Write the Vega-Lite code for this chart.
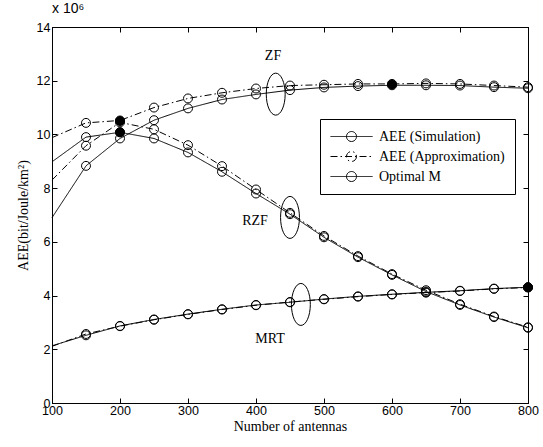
{
  "$schema": "https://vega.github.io/schema/vega-lite/v6.json",
  "width": 476,
  "height": 376,
  "autosize": {"type": "none"},
  "padding": {"left": 52, "top": 27, "right": 15, "bottom": 44},
  "background": "white",
  "title": {"text": "x 10⁶", "anchor": "start", "frame": "group", "font": "Liberation Sans", "fontSize": 14, "fontWeight": "normal", "color": "black", "offset": 5},
  "config": {
    "view": {"stroke": "black", "strokeWidth": 1},
    "axis": {"domainColor": "black", "tickColor": "black", "labelColor": "black", "titleColor": "black", "labelFont": "Liberation Sans", "labelFontSize": 12.5, "titleFont": "Liberation Serif", "titleFontSize": 14, "titleFontWeight": "normal", "grid": false, "tickSize": -5, "labelPadding": 4, "labelFlush": false, "labelOverlap": false}
  },
  "datasets": {
    "series": [
      {"M": 100, "v": 6.9, "s": "ZF-sim", "type": "AEE (Simulation)"},
      {"M": 150, "v": 8.83, "s": "ZF-sim", "type": "AEE (Simulation)"},
      {"M": 200, "v": 9.85, "s": "ZF-sim", "type": "AEE (Simulation)"},
      {"M": 250, "v": 10.53, "s": "ZF-sim", "type": "AEE (Simulation)"},
      {"M": 300, "v": 10.97, "s": "ZF-sim", "type": "AEE (Simulation)"},
      {"M": 350, "v": 11.3, "s": "ZF-sim", "type": "AEE (Simulation)"},
      {"M": 400, "v": 11.49, "s": "ZF-sim", "type": "AEE (Simulation)"},
      {"M": 450, "v": 11.65, "s": "ZF-sim", "type": "AEE (Simulation)"},
      {"M": 500, "v": 11.75, "s": "ZF-sim", "type": "AEE (Simulation)"},
      {"M": 550, "v": 11.8, "s": "ZF-sim", "type": "AEE (Simulation)"},
      {"M": 600, "v": 11.83, "s": "ZF-sim", "type": "AEE (Simulation)"},
      {"M": 650, "v": 11.83, "s": "ZF-sim", "type": "AEE (Simulation)"},
      {"M": 700, "v": 11.82, "s": "ZF-sim", "type": "AEE (Simulation)"},
      {"M": 750, "v": 11.76, "s": "ZF-sim", "type": "AEE (Simulation)"},
      {"M": 800, "v": 11.72, "s": "ZF-sim", "type": "AEE (Simulation)"},
      {"M": 100, "v": 9.88, "s": "ZF-app", "type": "AEE (Approximation)"},
      {"M": 150, "v": 10.43, "s": "ZF-app", "type": "AEE (Approximation)"},
      {"M": 200, "v": 10.52, "s": "ZF-app", "type": "AEE (Approximation)"},
      {"M": 250, "v": 11.0, "s": "ZF-app", "type": "AEE (Approximation)"},
      {"M": 300, "v": 11.34, "s": "ZF-app", "type": "AEE (Approximation)"},
      {"M": 350, "v": 11.55, "s": "ZF-app", "type": "AEE (Approximation)"},
      {"M": 400, "v": 11.71, "s": "ZF-app", "type": "AEE (Approximation)"},
      {"M": 450, "v": 11.82, "s": "ZF-app", "type": "AEE (Approximation)"},
      {"M": 500, "v": 11.85, "s": "ZF-app", "type": "AEE (Approximation)"},
      {"M": 550, "v": 11.88, "s": "ZF-app", "type": "AEE (Approximation)"},
      {"M": 600, "v": 11.88, "s": "ZF-app", "type": "AEE (Approximation)"},
      {"M": 650, "v": 11.9, "s": "ZF-app", "type": "AEE (Approximation)"},
      {"M": 700, "v": 11.88, "s": "ZF-app", "type": "AEE (Approximation)"},
      {"M": 750, "v": 11.82, "s": "ZF-app", "type": "AEE (Approximation)"},
      {"M": 800, "v": 11.76, "s": "ZF-app", "type": "AEE (Approximation)"},
      {"M": 100, "v": 8.98, "s": "RZF-sim", "type": "AEE (Simulation)"},
      {"M": 150, "v": 9.9, "s": "RZF-sim", "type": "AEE (Simulation)"},
      {"M": 200, "v": 10.08, "s": "RZF-sim", "type": "AEE (Simulation)"},
      {"M": 250, "v": 9.85, "s": "RZF-sim", "type": "AEE (Simulation)"},
      {"M": 300, "v": 9.33, "s": "RZF-sim", "type": "AEE (Simulation)"},
      {"M": 350, "v": 8.61, "s": "RZF-sim", "type": "AEE (Simulation)"},
      {"M": 400, "v": 7.8, "s": "RZF-sim", "type": "AEE (Simulation)"},
      {"M": 450, "v": 7.03, "s": "RZF-sim", "type": "AEE (Simulation)"},
      {"M": 500, "v": 6.17, "s": "RZF-sim", "type": "AEE (Simulation)"},
      {"M": 550, "v": 5.43, "s": "RZF-sim", "type": "AEE (Simulation)"},
      {"M": 600, "v": 4.77, "s": "RZF-sim", "type": "AEE (Simulation)"},
      {"M": 650, "v": 4.15, "s": "RZF-sim", "type": "AEE (Simulation)"},
      {"M": 700, "v": 3.65, "s": "RZF-sim", "type": "AEE (Simulation)"},
      {"M": 750, "v": 3.2, "s": "RZF-sim", "type": "AEE (Simulation)"},
      {"M": 800, "v": 2.8, "s": "RZF-sim", "type": "AEE (Simulation)"},
      {"M": 100, "v": 8.3, "s": "RZF-app", "type": "AEE (Approximation)"},
      {"M": 150, "v": 9.58, "s": "RZF-app", "type": "AEE (Approximation)"},
      {"M": 200, "v": 10.45, "s": "RZF-app", "type": "AEE (Approximation)"},
      {"M": 250, "v": 10.19, "s": "RZF-app", "type": "AEE (Approximation)"},
      {"M": 300, "v": 9.6, "s": "RZF-app", "type": "AEE (Approximation)"},
      {"M": 350, "v": 8.82, "s": "RZF-app", "type": "AEE (Approximation)"},
      {"M": 400, "v": 7.95, "s": "RZF-app", "type": "AEE (Approximation)"},
      {"M": 450, "v": 7.08, "s": "RZF-app", "type": "AEE (Approximation)"},
      {"M": 500, "v": 6.22, "s": "RZF-app", "type": "AEE (Approximation)"},
      {"M": 550, "v": 5.47, "s": "RZF-app", "type": "AEE (Approximation)"},
      {"M": 600, "v": 4.8, "s": "RZF-app", "type": "AEE (Approximation)"},
      {"M": 650, "v": 4.2, "s": "RZF-app", "type": "AEE (Approximation)"},
      {"M": 700, "v": 3.68, "s": "RZF-app", "type": "AEE (Approximation)"},
      {"M": 750, "v": 3.22, "s": "RZF-app", "type": "AEE (Approximation)"},
      {"M": 800, "v": 2.82, "s": "RZF-app", "type": "AEE (Approximation)"},
      {"M": 100, "v": 2.13, "s": "MRT-sim", "type": "AEE (Simulation)"},
      {"M": 150, "v": 2.52, "s": "MRT-sim", "type": "AEE (Simulation)"},
      {"M": 200, "v": 2.87, "s": "MRT-sim", "type": "AEE (Simulation)"},
      {"M": 250, "v": 3.11, "s": "MRT-sim", "type": "AEE (Simulation)"},
      {"M": 300, "v": 3.31, "s": "MRT-sim", "type": "AEE (Simulation)"},
      {"M": 350, "v": 3.49, "s": "MRT-sim", "type": "AEE (Simulation)"},
      {"M": 400, "v": 3.65, "s": "MRT-sim", "type": "AEE (Simulation)"},
      {"M": 450, "v": 3.75, "s": "MRT-sim", "type": "AEE (Simulation)"},
      {"M": 500, "v": 3.87, "s": "MRT-sim", "type": "AEE (Simulation)"},
      {"M": 550, "v": 3.97, "s": "MRT-sim", "type": "AEE (Simulation)"},
      {"M": 600, "v": 4.05, "s": "MRT-sim", "type": "AEE (Simulation)"},
      {"M": 650, "v": 4.12, "s": "MRT-sim", "type": "AEE (Simulation)"},
      {"M": 700, "v": 4.18, "s": "MRT-sim", "type": "AEE (Simulation)"},
      {"M": 750, "v": 4.26, "s": "MRT-sim", "type": "AEE (Simulation)"},
      {"M": 800, "v": 4.31, "s": "MRT-sim", "type": "AEE (Simulation)"},
      {"M": 100, "v": 2.11, "s": "MRT-app", "type": "AEE (Approximation)"},
      {"M": 150, "v": 2.57, "s": "MRT-app", "type": "AEE (Approximation)"},
      {"M": 200, "v": 2.86, "s": "MRT-app", "type": "AEE (Approximation)"},
      {"M": 250, "v": 3.1, "s": "MRT-app", "type": "AEE (Approximation)"},
      {"M": 300, "v": 3.3, "s": "MRT-app", "type": "AEE (Approximation)"},
      {"M": 350, "v": 3.48, "s": "MRT-app", "type": "AEE (Approximation)"},
      {"M": 400, "v": 3.64, "s": "MRT-app", "type": "AEE (Approximation)"},
      {"M": 450, "v": 3.76, "s": "MRT-app", "type": "AEE (Approximation)"},
      {"M": 500, "v": 3.86, "s": "MRT-app", "type": "AEE (Approximation)"},
      {"M": 550, "v": 3.96, "s": "MRT-app", "type": "AEE (Approximation)"},
      {"M": 600, "v": 4.04, "s": "MRT-app", "type": "AEE (Approximation)"},
      {"M": 650, "v": 4.11, "s": "MRT-app", "type": "AEE (Approximation)"},
      {"M": 700, "v": 4.17, "s": "MRT-app", "type": "AEE (Approximation)"},
      {"M": 750, "v": 4.25, "s": "MRT-app", "type": "AEE (Approximation)"},
      {"M": 800, "v": 4.3, "s": "MRT-app", "type": "AEE (Approximation)"}
    ],
    "optimal": [
      {"M": 200, "v": 10.08},
      {"M": 200, "v": 10.5},
      {"M": 600, "v": 11.86},
      {"M": 800, "v": 4.31}
    ],
    "ellipses": [
      {"M": 429, "v": 11.5},
      {"M": 450, "v": 6.91},
      {"M": 466, "v": 3.67}
    ],
    "labels": [
      {"M": 425, "v": 12.92, "label": "ZF"},
      {"M": 398.5, "v": 6.79, "label": "RZF"},
      {"M": 420.6, "v": 2.37, "label": "MRT"}
    ]
  },
  "layer": [
    {
      "data": {"name": "series"},
      "mark": {"type": "line", "color": "black", "strokeWidth": 1},
      "encoding": {
        "x": {"field": "M", "type": "quantitative", "scale": {"domain": [100, 800]}, "axis": {"orient": "bottom", "title": "Number of antennas", "values": [100, 200, 300, 400, 500, 600, 700, 800], "labelPadding": 6, "titlePadding": 3}},
        "y": {"field": "v", "type": "quantitative", "scale": {"domain": [0, 14]}, "axis": {"orient": "left", "title": "AEE(bit/Joule/km²)", "values": [0, 2, 4, 6, 8, 10, 12, 14], "labelPadding": 7, "titlePadding": 6}},
        "detail": {"field": "s"},
        "strokeDash": {
          "field": "type",
          "type": "nominal",
          "scale": {"domain": ["AEE (Simulation)", "AEE (Approximation)", "Optimal M"], "range": [[1, 0], [7, 3, 1.5, 3], [1, 0]]},
          "legend": {
            "title": null,
            "orient": "none",
            "legendX": 268,
            "legendY": 92,
            "symbolType": "M -1 0 L 5 0 M 2.714 0 A 0.714 0.714 0 1 1 1.286 0 A 0.714 0.714 0 1 1 2.714 0",
            "symbolSize": 196,
            "symbolStrokeColor": "black",
            "symbolStrokeWidth": 1,
            "symbolFillColor": "transparent",
            "labelFont": "Liberation Serif",
            "labelFontSize": 14,
            "labelColor": "black",
            "labelOffset": 34,
            "rowPadding": 5,
            "padding": 10,
            "strokeColor": "black",
            "fillColor": "white"
          }
        }
      }
    },
    {
      "data": {"name": "series"},
      "transform": [{"filter": "datum.M > 100"}],
      "mark": {"type": "point", "shape": "circle", "size": 80, "filled": false, "stroke": "black", "strokeWidth": 1, "opacity": 1},
      "encoding": {
        "x": {"field": "M", "type": "quantitative", "axis": null},
        "y": {"field": "v", "type": "quantitative", "axis": null}
      }
    },
    {
      "data": {"name": "optimal"},
      "mark": {"type": "point", "shape": "circle", "size": 80, "filled": true, "fill": "black", "stroke": "black", "strokeWidth": 1, "opacity": 1},
      "encoding": {
        "x": {"field": "M", "type": "quantitative", "axis": null},
        "y": {"field": "v", "type": "quantitative", "axis": null}
      }
    },
    {
      "data": {"name": "ellipses"},
      "mark": {"type": "point", "shape": "M -0.45 0 A 0.45 1 0 1 1 0.45 0 A 0.45 1 0 1 1 -0.45 0 Z", "size": 1764, "filled": false, "stroke": "black", "strokeWidth": 1, "opacity": 1},
      "encoding": {
        "x": {"field": "M", "type": "quantitative", "axis": {"orient": "top", "labels": false, "title": null, "values": [100, 200, 300, 400, 500, 600, 700, 800]}},
        "y": {"field": "v", "type": "quantitative", "axis": {"orient": "right", "labels": false, "title": null, "values": [0, 2, 4, 6, 8, 10, 12, 14]}}
      }
    },
    {
      "data": {"name": "labels"},
      "mark": {"type": "text", "font": "Liberation Serif", "fontSize": 14, "color": "black", "align": "center", "baseline": "middle"},
      "encoding": {
        "x": {"field": "M", "type": "quantitative", "axis": null},
        "y": {"field": "v", "type": "quantitative", "axis": null},
        "text": {"field": "label"}
      }
    }
  ],
  "resolve": {"axis": {"x": "independent", "y": "independent"}}
}
